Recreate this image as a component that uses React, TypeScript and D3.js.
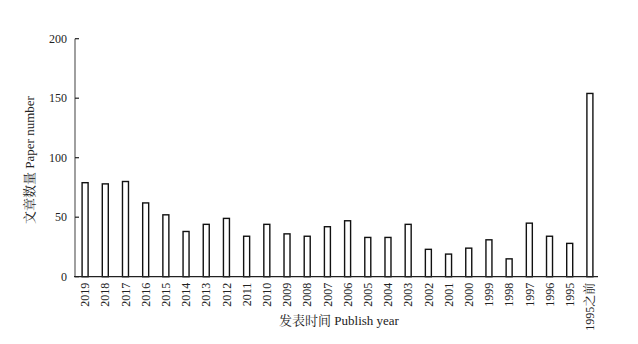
import React, { useEffect, useRef } from "react";
import * as d3 from "d3";

const categories: string[] = [
  "2019", "2018", "2017", "2016", "2015", "2014", "2013", "2012", "2011", "2010",
  "2009", "2008", "2007", "2006", "2005", "2004", "2003", "2002", "2001", "2000",
  "1999", "1998", "1997", "1996", "1995", "1995之前",
];
const paperCounts: number[] = [
  79, 78, 80, 62, 52, 38, 44, 49, 34, 44,
  36, 34, 42, 47, 33, 33, 44, 23, 19, 24,
  31, 15, 45, 34, 28, 154,
];
const yTicks: number[] = [0, 50, 100, 150, 200];
const yTitle = "文章数量 Paper number";
const xTitle = "发表时间 Publish year";

const W = 638;
const H = 344;
const FONT = "Liberation Serif, Times New Roman, Noto Serif CJK SC, Noto Sans CJK SC, serif";

export default function App() {
  const ref = useRef<SVGSVGElement | null>(null);

  useEffect(() => {
    const svg = d3.select(ref.current);
    svg.selectAll("*").remove();

    const left = 75, right = 600, top = 38.7, bottom = 276.7;
    const x = d3.scaleBand<string>().domain(categories).range([left, right]).padding(0);
    const y = d3.scaleLinear().domain([0, 200]).range([bottom, top]);
    const barW = 6;

    svg.append("g")
      .selectAll("rect")
      .data(categories.map((c, i) => ({ c, v: paperCounts[i] })))
      .join("rect")
      .attr("x", d => (x(d.c) as number) + x.bandwidth() / 2 - barW / 2)
      .attr("y", d => y(d.v))
      .attr("width", barW)
      .attr("height", d => y(0) - y(d.v))
      .attr("fill", "#fff")
      .attr("stroke", "#111")
      .attr("stroke-width", 1.4);

    svg.append("line")
      .attr("x1", left).attr("x2", left)
      .attr("y1", top).attr("y2", bottom)
      .attr("stroke", "#888").attr("stroke-width", 1.6);

    const yg = svg.append("g");
    yTicks.forEach(t => {
      yg.append("line")
        .attr("x1", left).attr("x2", left + 4)
        .attr("y1", y(t)).attr("y2", y(t))
        .attr("stroke", "#222").attr("stroke-width", 1.2);
      yg.append("text")
        .attr("x", left - 8)
        .attr("y", y(t))
        .attr("dy", "0.35em")
        .attr("text-anchor", "end")
        .style("font-family", FONT)
        .style("font-size", "12px")
        .attr("fill", "#222")
        .text(String(t));
    });

    svg.append("line")
      .attr("x1", left - 1).attr("x2", right - 2)
      .attr("y1", bottom).attr("y2", bottom)
      .attr("stroke", "#222").attr("stroke-width", 1.2);

    const xg = svg.append("g");
    categories.forEach(c => {
      const cx = (x(c) as number) + x.bandwidth() / 2;
      xg.append("text")
        .attr("transform", `translate(${cx},${bottom + 6}) rotate(-90)`)
        .attr("dy", "0.35em")
        .attr("text-anchor", "end")
        .style("font-family", FONT)
        .style("font-size", "12px")
        .attr("fill", "#222")
        .text(c);
    });

    svg.append("text")
      .attr("transform", `translate(29,160) rotate(-90)`)
      .attr("dy", "0.35em")
      .attr("text-anchor", "middle")
      .style("font-family", FONT)
      .style("font-size", "13px")
      .attr("fill", "#222")
      .text(yTitle);

    svg.append("text")
      .attr("x", 339)
      .attr("y", 325)
      .attr("text-anchor", "middle")
      .style("font-family", FONT)
      .style("font-size", "13px")
      .attr("fill", "#222")
      .text(xTitle);
  }, []);

  return (
    <svg
      ref={ref}
      width={W}
      height={H}
      style={{ position: "absolute", left: 0, top: 0, background: "#fff" }}
    />
  );
}
